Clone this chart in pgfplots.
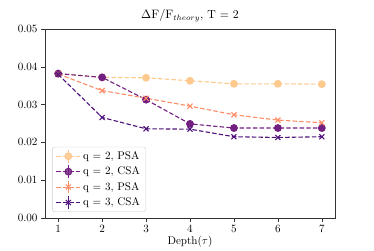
\documentclass[border=0pt]{standalone}
\usepackage{pgfplots}
\pgfplotsset{compat=1.18}
\definecolor{cA}{HTML}{FEC98D}
\definecolor{cB}{HTML}{721F81}
\definecolor{cC}{HTML}{FB8D67}
\definecolor{cD}{HTML}{4F127B}
\begin{document}
\begin{tikzpicture}
\path (0,0) rectangle (336.6pt,224.1pt);
\begin{axis}[
  at={(40.5pt,27.9pt)}, anchor=south west,
  scale only axis, width=261pt, height=170.1pt,
  xmin=0.7, xmax=7.3, ymin=0, ymax=0.05,
  xtick={1,2,3,4,5,6,7},
  ytick={0,0.01,0.02,0.03,0.04,0.05},
  yticklabel style={/pgf/number format/.cd, fixed, fixed zerofill, precision=2},
  scaled y ticks=false,
  tick align=outside, tick pos=left,
  major tick length=3.2pt,
  axis line style={black!80},
  every tick/.style={black!80},
  title={$\Delta\mathrm{F}/\mathrm{F}_{theory}$, T = 2},
  title style={yshift=-3pt, font=\fontsize{10.6}{12}\selectfont},
  xlabel={Depth($\tau$)},
  xlabel style={yshift=4pt},
  legend cell align=left,
  legend style={at={(0.025,0.032)}, anchor=south west, draw=black!20, rounded corners=2pt, fill=white, fill opacity=0.8, text opacity=1, row sep=1.2pt, font=\normalsize},
  legend image code/.code={
    \draw[mark repeat=2,mark phase=2] plot coordinates {(0cm,0cm) (0.38cm,0cm) (0.76cm,0cm)};
    \draw[solid] (0.38cm,-0.2cm) -- (0.38cm,0.2cm);
  },
  every axis plot/.append style={line width=1pt, dash pattern=on 4pt off 2pt},
]
\addplot[color=cA, mark=*, mark size=3pt, mark options={solid}] coordinates {
(1,0.0382) (2,0.0372) (3,0.0371) (4,0.0363) (5,0.0355) (6,0.0355) (7,0.0354)};
\addlegendentry{q = 2, PSA}
\addplot[color=cB, mark=*, mark size=3pt, mark options={solid}] coordinates {
(1,0.0382) (2,0.0372) (3,0.0313) (4,0.0249) (5,0.0238) (6,0.0238) (7,0.0238)};
\addlegendentry{q = 2, CSA}
\addplot[color=cC, mark=x, mark size=3.2pt, mark options={solid}] coordinates {
(1,0.0381) (2,0.0337) (3,0.0317) (4,0.0296) (5,0.0273) (6,0.0259) (7,0.0252)};
\addlegendentry{q = 3, PSA}
\addplot[color=cD, mark=x, mark size=3.2pt, mark options={solid}] coordinates {
(1,0.0380) (2,0.0266) (3,0.0236) (4,0.0235) (5,0.0215) (6,0.0213) (7,0.0215)};
\addlegendentry{q = 3, CSA}
\end{axis}
\end{tikzpicture}
\end{document}
